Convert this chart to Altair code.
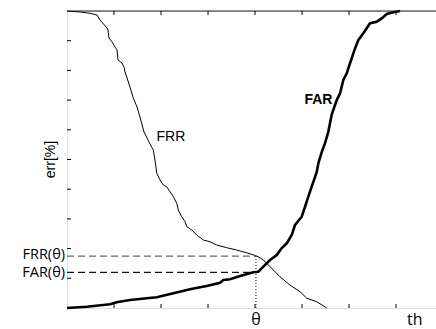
import altair as alt
import pandas as pd

# FRR curve (thin)
frr_th = [0, 2.77, 4.89, 6.38, 7.02, 8.51, 8.72, 8.94, 9.57, 10.21, 10.64, 10.85, 11.70, 12.13, 12.34,
          13.40, 14.04, 14.89, 15.53, 16.38, 17.23, 18.09, 18.36, 18.72, 19.09, 19.79, 20.49, 21.21,
          21.91, 22.62, 23.34, 23.68, 24.40, 25.11, 25.47, 26.53, 27.60, 29.0, 30.43, 31.85, 33.98,
          36.11, 38.23, 40.36, 41.77, 43.19, 45.32, 47.45, 49.57, 51.0, 53.13, 55.26]
frr_err = [100, 99.66, 99.23, 98.65, 96.97, 94.28, 93.6, 90.9, 89.6, 87.9, 86.9, 83.5, 82.5, 81.1, 79.5,
           74.4, 71.0, 67.7, 64.3, 59.3, 56.6, 53.9, 53.2, 49.8, 45.4, 43.1, 41.4, 40.8,
           39.2, 37.5, 35.3, 33.0, 30.7, 29.1, 27.4, 26.3, 24.6, 22.9, 22.3, 21.2, 20.3,
           19.5, 18.6, 17.5, 16.2, 13.9, 10.5, 7.7, 5.5, 3.3, 2.1, 0]

# FAR curve (thick)
far_th = [0, 4.19, 9.15, 10.57, 13.40, 19.09, 22.62, 26.17, 29.72, 32.55, 33.26, 34.68, 36.81, 39.64,
          40.70, 41.77, 43.19, 44.62, 45.68, 46.74, 47.81, 48.51, 49.94, 50.64, 51.34, 52.06, 53.13,
          53.47, 54.19, 54.89, 55.60, 56.30, 57.38, 58.09, 58.79, 59.51, 60.21, 61.28, 61.98, 63.04,
          64.47, 65.89, 66.96, 68.02, 69.43, 70.85]
far_err = [0, 0.44, 1.25, 1.92, 2.69, 3.60, 4.95, 6.30, 7.41, 8.52, 9.43, 9.66, 10.77, 12.02,
           12.22, 13.91, 16.16, 17.85, 20.2, 21.78, 24.58, 27.95, 30.74, 34.1, 37.47, 40.84, 45.8,
           48.7, 52.5, 55.5, 59.4, 65.0, 70.0, 72.3, 76.8, 79.0, 82.4, 87.4, 90.2, 92.5,
           95.9, 96.4, 97.5, 99.0, 99.56, 100]

theta = 40.2
frr_theta = 17.5
far_theta = 12.0

x_ticks = [10, 20, 30, 40, 50, 60, 70]
y_ticks = [10, 20, 30, 40, 50, 60, 70, 80, 90]

W, H = 369, 297
xs = alt.Scale(domain=[0, 78.5], nice=False, zero=True)
ys = alt.Scale(domain=[0, 100], nice=False)

frr_df = pd.DataFrame({"th": frr_th, "err": frr_err})
far_df = pd.DataFrame({"th": far_th, "err": far_err})
xt = pd.DataFrame({"t": x_ticks})
yt = pd.DataFrame({"t": y_ticks})

ax_x = alt.Axis(domain=True, domainWidth=2, domainColor="black", ticks=False, labels=False,
                grid=False, title=None)
ax_y = alt.Axis(domain=True, domainWidth=2, domainColor="black", ticks=False, labels=False,
                grid=False, title=None)

frr_line = alt.Chart(frr_df).mark_line(color="black", strokeWidth=1, interpolate="linear").encode(
    x=alt.X("th:Q", scale=xs, axis=ax_x),
    y=alt.Y("err:Q", scale=ys, axis=ax_y),
)
far_line = alt.Chart(far_df).mark_line(color="black", strokeWidth=2.6, interpolate="linear").encode(
    x=alt.X("th:Q", scale=xs, axis=None),
    y=alt.Y("err:Q", scale=ys, axis=None),
)

base = alt.Chart(pd.DataFrame({"a": [0]}))

top_line = base.mark_rule(color="#222", strokeWidth=1).encode(
    x=alt.value(0), x2=alt.value(W), y=alt.value(0))

bot_ticks = alt.Chart(xt).mark_rule(color="black", strokeWidth=1).encode(
    x=alt.X("t:Q", scale=xs, axis=None), y=alt.value(H), y2=alt.value(H - 4))
top_ticks = alt.Chart(xt).mark_rule(color="black", strokeWidth=1).encode(
    x=alt.X("t:Q", scale=xs, axis=None), y=alt.value(0), y2=alt.value(4))
left_ticks = alt.Chart(yt).mark_rule(color="black", strokeWidth=1).encode(
    y=alt.Y("t:Q", scale=ys, axis=None), x=alt.value(0), x2=alt.value(4))

frr_dash = base.mark_rule(color="#666", strokeWidth=1.3, strokeDash=[7, 4]).encode(
    x=alt.datum(0, scale=xs), x2=alt.datum(theta), y=alt.datum(frr_theta, scale=ys))
far_dash = base.mark_rule(color="#111", strokeWidth=1.3, strokeDash=[7, 4]).encode(
    x=alt.datum(0, scale=xs), x2=alt.datum(theta), y=alt.datum(far_theta, scale=ys))
vdot = base.mark_rule(color="black", strokeWidth=1, strokeDash=[1, 2]).encode(
    x=alt.datum(theta, scale=xs), y=alt.datum(frr_theta, scale=ys), y2=alt.datum(0))

frr_lbl = base.mark_text(text="FRR", font="Liberation Sans", fontSize=14, align="center",
                         baseline="middle").encode(x=alt.datum(22.1, scale=xs), y=alt.datum(57.6, scale=ys))
far_lbl = base.mark_text(text="FAR", font="Liberation Sans", fontSize=14, fontWeight="bold",
                         align="center", baseline="middle").encode(
    x=alt.datum(53.5, scale=xs), y=alt.datum(70.0, scale=ys))

err_lbl = base.mark_text(text="err[%]", font="Liberation Sans", fontSize=14, angle=270,
                         align="center", baseline="middle").encode(x=alt.value(-16), y=alt.value(H / 2))

frr_t_lbl = base.mark_text(text="FRR(θ)", font="Open Sans", fontSize=14.5, align="right",
                           baseline="middle", dy=-1.5).encode(x=alt.value(-2), y=alt.datum(frr_theta, scale=ys))
far_t_lbl = base.mark_text(text="FAR(θ)", font="Open Sans", fontSize=14.5, align="right",
                           baseline="middle", dy=0.5).encode(x=alt.value(-2), y=alt.datum(far_theta, scale=ys))

theta_lbl = base.mark_text(text="θ", font="Open Sans", fontSize=16, align="center",
                           baseline="middle").encode(x=alt.datum(theta, scale=xs), y=alt.value(H + 12))
th_lbl = base.mark_text(text="th", font="Open Sans", fontSize=16, align="center",
                        baseline="middle").encode(x=alt.datum(74.0, scale=xs), y=alt.value(H + 12))

chart = alt.layer(
    frr_line, far_line, top_line, bot_ticks, top_ticks, left_ticks,
    frr_dash, far_dash, vdot, frr_lbl, far_lbl, err_lbl, frr_t_lbl, far_t_lbl, theta_lbl, th_lbl,
).properties(
    width=W, height=H,
    padding={"left": 67, "top": 11, "right": 0, "bottom": 21},
    autosize=alt.AutoSizeParams(type="none"),
).configure_view(stroke=None).configure(background="white")

chart.save("out.html", embed_options={"renderer": "svg", "actions": False})
